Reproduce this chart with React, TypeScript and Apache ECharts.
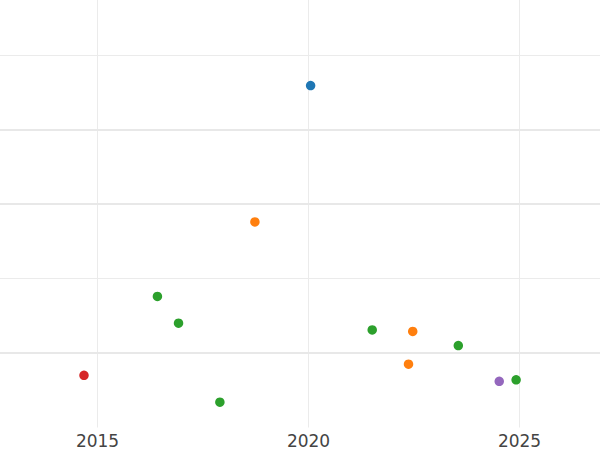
import React, { useEffect, useRef } from "react";
import * as echarts from "echarts";

// Data (x = year, y = value)
const blueX = [2020.05];
const blueY = [4.59];
const orangeX = [2018.73, 2022.47, 2022.37];
const orangeY = [2.76, 1.29, 0.85];
const greenX = [2016.42, 2016.92, 2017.9, 2021.51, 2023.55, 2024.92];
const greenY = [1.76, 1.4, 0.34, 1.31, 1.1, 0.64];
const redX = [2014.68];
const redY = [0.7];
const purpleX = [2024.52];
const purpleY = [0.62];

const xTickLabels = [2015, 2020, 2025];
const emphasisLines = [1, 3, 4];

const seriesDefs = [
  { name: "A", xs: blueX, ys: blueY, color: "#1f77b4" },
  { name: "B", xs: orangeX, ys: orangeY, color: "#ff7f0e" },
  { name: "C", xs: greenX, ys: greenY, color: "#2ca02c" },
  { name: "D", xs: redX, ys: redY, color: "#d62728" },
  { name: "E", xs: purpleX, ys: purpleY, color: "#9467bd" },
];

export default function App() {
  const ref = useRef<HTMLDivElement>(null);
  useEffect(() => {
    if (!ref.current) return;
    const chart = echarts.init(ref.current, undefined, { renderer: "svg" });
    const series: any[] = seriesDefs.map((s) => ({
      type: "scatter",
      name: s.name,
      symbolSize: 9.5,
      itemStyle: { color: s.color, opacity: 1 },
      data: s.xs.map((x, i) => [x, s.ys[i]]),
      z: 3,
    }));
    series.push({
      type: "scatter",
      name: "grid",
      data: [],
      silent: true,
      markLine: {
        silent: true,
        symbol: "none",
        label: { show: false },
        lineStyle: { color: "#e8e8e8", width: 2, type: "solid" },
        data: emphasisLines.map((v) => ({ yAxis: v })),
      },
      z: 1,
    });
    chart.setOption({
      animation: false,
      grid: {
        left: -113.5,
        right: -130.5,
        top: -19.5,
        bottom: 22.5,
        containLabel: false,
        outerBoundsMode: "none",
      },
      xAxis: {
        type: "value",
        min: 2010,
        max: 2030,
        interval: 5,
        axisLine: { show: false },
        axisTick: { show: false },
        axisLabel: {
          color: "#444",
          fontSize: 17,
          fontFamily: "DejaVu Sans",
          margin: 5,
          formatter: (v: number) => (xTickLabels.includes(v) ? String(v) : ""),
        },
        splitLine: { show: true, lineStyle: { color: "#ebebeb", width: 1 } },
      },
      yAxis: {
        type: "value",
        min: 0,
        max: 6,
        interval: 1,
        axisLine: { show: false },
        axisTick: { show: false },
        axisLabel: { show: false },
        splitLine: {
          show: true,
          lineStyle: {
            color: ["rgba(0,0,0,0)", "#ebebeb", "#ebebeb", "#ebebeb", "#ebebeb", "#ebebeb", "#ebebeb"],
            width: 1,
          },
        },
      },
      series,
    });
    return () => chart.dispose();
  }, []);
  return (
    <div
      ref={ref}
      style={{ position: "fixed", left: 0, top: 0, width: 600, height: 450, background: "#fff" }}
    />
  );
}
